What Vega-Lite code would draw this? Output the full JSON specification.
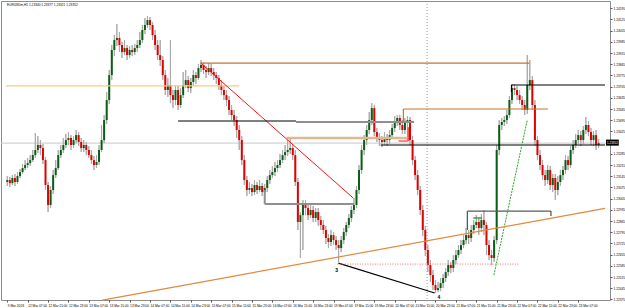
{
"$schema":"https://vega.github.io/schema/vega-lite/v6.json",
"width":609,"height":299,
"autosize":{"type":"none"},
"padding":{"left":1,"top":1,"right":15,"bottom":8},
"background":"white",
"config":{"view":{"stroke":"#8c8c8c","strokeWidth":1},"axis":{"labelFont":"Liberation Sans","labelColor":"#000000","tickColor":"#555555","grid":false,"title":null,"labelOverlap":false,"labelSeparation":0}},
"title":{"text":"EURUSDm,H1  1.23340 1.23377 1.23321 1.23352","anchor":"start","frame":"group","orient":"top","offset":-6,"dx":6,"fontSize":3.2,"fontWeight":"normal","font":"Liberation Sans","color":"#000000"},
"datasets":{
"candles":[
{"i":0,"o":1.23109,"h":1.23146,"l":1.23084,"c":1.23121},
{"i":1,"o":1.23121,"h":1.23140,"l":1.23077,"c":1.23102},
{"i":2,"o":1.23102,"h":1.23152,"l":1.23090,"c":1.23134},
{"i":3,"o":1.23134,"h":1.23159,"l":1.23084,"c":1.23109},
{"i":4,"o":1.23109,"h":1.23171,"l":1.23096,"c":1.23146},
{"i":5,"o":1.23146,"h":1.23190,"l":1.23134,"c":1.23171},
{"i":6,"o":1.23171,"h":1.23221,"l":1.23159,"c":1.23196},
{"i":7,"o":1.23196,"h":1.23246,"l":1.23184,"c":1.23215},
{"i":8,"o":1.23215,"h":1.23259,"l":1.23196,"c":1.23227},
{"i":9,"o":1.23227,"h":1.23277,"l":1.23209,"c":1.23246},
{"i":10,"o":1.23246,"h":1.23309,"l":1.23234,"c":1.23277},
{"i":11,"o":1.23277,"h":1.23415,"l":1.23259,"c":1.23309},
{"i":12,"o":1.23309,"h":1.23396,"l":1.23290,"c":1.23340},
{"i":13,"o":1.23340,"h":1.23371,"l":1.23277,"c":1.23321},
{"i":14,"o":1.23321,"h":1.23346,"l":1.23221,"c":1.23246},
{"i":15,"o":1.23246,"h":1.23265,"l":1.23059,"c":1.23090},
{"i":16,"o":1.23090,"h":1.23109,"l":1.22921,"c":1.22965},
{"i":17,"o":1.22965,"h":1.23084,"l":1.22946,"c":1.23059},
{"i":18,"o":1.23059,"h":1.23184,"l":1.23034,"c":1.23152},
{"i":19,"o":1.23152,"h":1.23246,"l":1.23134,"c":1.23196},
{"i":20,"o":1.23196,"h":1.23309,"l":1.23184,"c":1.23277},
{"i":21,"o":1.23277,"h":1.23340,"l":1.23259,"c":1.23309},
{"i":22,"o":1.23309,"h":1.23384,"l":1.23290,"c":1.23340},
{"i":23,"o":1.23340,"h":1.23409,"l":1.23321,"c":1.23371},
{"i":24,"o":1.23371,"h":1.23421,"l":1.23340,"c":1.23384},
{"i":25,"o":1.23384,"h":1.23402,"l":1.23309,"c":1.23340},
{"i":26,"o":1.23340,"h":1.23396,"l":1.23321,"c":1.23371},
{"i":27,"o":1.23371,"h":1.23434,"l":1.23352,"c":1.23402},
{"i":28,"o":1.23402,"h":1.23421,"l":1.23334,"c":1.23359},
{"i":29,"o":1.23359,"h":1.23384,"l":1.23296,"c":1.23321},
{"i":30,"o":1.23321,"h":1.23371,"l":1.23296,"c":1.23340},
{"i":31,"o":1.23340,"h":1.23359,"l":1.23277,"c":1.23309},
{"i":32,"o":1.23309,"h":1.23334,"l":1.23259,"c":1.23277},
{"i":33,"o":1.23277,"h":1.23309,"l":1.23221,"c":1.23246},
{"i":34,"o":1.23246,"h":1.23271,"l":1.23184,"c":1.23215},
{"i":35,"o":1.23215,"h":1.23277,"l":1.23196,"c":1.23234},
{"i":36,"o":1.23234,"h":1.23340,"l":1.23215,"c":1.23309},
{"i":37,"o":1.23309,"h":1.23465,"l":1.23296,"c":1.23371},
{"i":38,"o":1.23371,"h":1.23527,"l":1.23352,"c":1.23496},
{"i":39,"o":1.23496,"h":1.23671,"l":1.23471,"c":1.23621},
{"i":40,"o":1.23621,"h":1.23809,"l":1.23596,"c":1.23777},
{"i":41,"o":1.23777,"h":1.23965,"l":1.23746,"c":1.23934},
{"i":42,"o":1.23934,"h":1.24027,"l":1.23896,"c":1.23996},
{"i":43,"o":1.23996,"h":1.24096,"l":1.23959,"c":1.24009},
{"i":44,"o":1.24009,"h":1.24046,"l":1.23921,"c":1.23965},
{"i":45,"o":1.23965,"h":1.23984,"l":1.23884,"c":1.23921},
{"i":46,"o":1.23921,"h":1.23996,"l":1.23902,"c":1.23946},
{"i":47,"o":1.23946,"h":1.23965,"l":1.23871,"c":1.23902},
{"i":48,"o":1.23902,"h":1.23959,"l":1.23884,"c":1.23934},
{"i":49,"o":1.23934,"h":1.23965,"l":1.23896,"c":1.23921},
{"i":50,"o":1.23921,"h":1.23971,"l":1.23902,"c":1.23946},
{"i":51,"o":1.23946,"h":1.23996,"l":1.23921,"c":1.23965},
{"i":52,"o":1.23965,"h":1.24046,"l":1.23946,"c":1.23996},
{"i":53,"o":1.23996,"h":1.24090,"l":1.23977,"c":1.24059},
{"i":54,"o":1.24059,"h":1.24134,"l":1.24034,"c":1.24090},
{"i":55,"o":1.24090,"h":1.24146,"l":1.24071,"c":1.24121},
{"i":56,"o":1.24121,"h":1.24140,"l":1.24059,"c":1.24090},
{"i":57,"o":1.24090,"h":1.24109,"l":1.23996,"c":1.24027},
{"i":58,"o":1.24027,"h":1.24059,"l":1.23934,"c":1.23965},
{"i":59,"o":1.23965,"h":1.23996,"l":1.23871,"c":1.23902},
{"i":60,"o":1.23902,"h":1.23996,"l":1.23834,"c":1.23871},
{"i":61,"o":1.23871,"h":1.23896,"l":1.23746,"c":1.23777},
{"i":62,"o":1.23777,"h":1.23809,"l":1.23652,"c":1.23684},
{"i":63,"o":1.23684,"h":1.23759,"l":1.23640,"c":1.23715},
{"i":64,"o":1.23715,"h":1.23996,"l":1.23602,"c":1.23652},
{"i":65,"o":1.23652,"h":1.23684,"l":1.23571,"c":1.23621},
{"i":66,"o":1.23621,"h":1.23715,"l":1.23590,"c":1.23684},
{"i":67,"o":1.23684,"h":1.23709,"l":1.23559,"c":1.23590},
{"i":68,"o":1.23590,"h":1.23696,"l":1.23571,"c":1.23652},
{"i":69,"o":1.23652,"h":1.23796,"l":1.23634,"c":1.23715},
{"i":70,"o":1.23715,"h":1.23809,"l":1.23696,"c":1.23746},
{"i":71,"o":1.23746,"h":1.23771,"l":1.23671,"c":1.23696},
{"i":72,"o":1.23696,"h":1.23759,"l":1.23665,"c":1.23734},
{"i":73,"o":1.23734,"h":1.23809,"l":1.23709,"c":1.23777},
{"i":74,"o":1.23777,"h":1.23796,"l":1.23721,"c":1.23759},
{"i":75,"o":1.23759,"h":1.23846,"l":1.23746,"c":1.23821},
{"i":76,"o":1.23821,"h":1.23871,"l":1.23796,"c":1.23840},
{"i":77,"o":1.23840,"h":1.23859,"l":1.23784,"c":1.23809},
{"i":78,"o":1.23809,"h":1.23834,"l":1.23759,"c":1.23796},
{"i":79,"o":1.23796,"h":1.23852,"l":1.23777,"c":1.23821},
{"i":80,"o":1.23821,"h":1.23846,"l":1.23771,"c":1.23796},
{"i":81,"o":1.23796,"h":1.23821,"l":1.23746,"c":1.23777},
{"i":82,"o":1.23777,"h":1.23796,"l":1.23721,"c":1.23759},
{"i":83,"o":1.23759,"h":1.23777,"l":1.23684,"c":1.23715},
{"i":84,"o":1.23715,"h":1.23746,"l":1.23652,"c":1.23684},
{"i":85,"o":1.23684,"h":1.23709,"l":1.23621,"c":1.23652},
{"i":86,"o":1.23652,"h":1.23684,"l":1.23584,"c":1.23621},
{"i":87,"o":1.23621,"h":1.23646,"l":1.23527,"c":1.23559},
{"i":88,"o":1.23559,"h":1.23590,"l":1.23496,"c":1.23527},
{"i":89,"o":1.23527,"h":1.23559,"l":1.23459,"c":1.23496},
{"i":90,"o":1.23496,"h":1.23521,"l":1.23384,"c":1.23434},
{"i":91,"o":1.23434,"h":1.23465,"l":1.23309,"c":1.23371},
{"i":92,"o":1.23371,"h":1.23396,"l":1.23215,"c":1.23246},
{"i":93,"o":1.23246,"h":1.23277,"l":1.23090,"c":1.23121},
{"i":94,"o":1.23121,"h":1.23146,"l":1.23021,"c":1.23059},
{"i":95,"o":1.23059,"h":1.23109,"l":1.23034,"c":1.23071},
{"i":96,"o":1.23071,"h":1.23096,"l":1.23021,"c":1.23046},
{"i":97,"o":1.23046,"h":1.23121,"l":1.23027,"c":1.23090},
{"i":98,"o":1.23090,"h":1.23109,"l":1.23034,"c":1.23059},
{"i":99,"o":1.23059,"h":1.23121,"l":1.23046,"c":1.23084},
{"i":100,"o":1.23084,"h":1.23102,"l":1.23021,"c":1.23046},
{"i":101,"o":1.23046,"h":1.23096,"l":1.23027,"c":1.23071},
{"i":102,"o":1.23071,"h":1.23146,"l":1.23046,"c":1.23121},
{"i":103,"o":1.23121,"h":1.23184,"l":1.23096,"c":1.23152},
{"i":104,"o":1.23152,"h":1.23209,"l":1.23134,"c":1.23171},
{"i":105,"o":1.23171,"h":1.23234,"l":1.23146,"c":1.23196},
{"i":106,"o":1.23196,"h":1.23246,"l":1.23171,"c":1.23215},
{"i":107,"o":1.23215,"h":1.23284,"l":1.23196,"c":1.23246},
{"i":108,"o":1.23246,"h":1.23309,"l":1.23227,"c":1.23277},
{"i":109,"o":1.23277,"h":1.23340,"l":1.23246,"c":1.23296},
{"i":110,"o":1.23296,"h":1.23371,"l":1.23271,"c":1.23309},
{"i":111,"o":1.23309,"h":1.23384,"l":1.23284,"c":1.23321},
{"i":112,"o":1.23321,"h":1.23346,"l":1.23246,"c":1.23277},
{"i":113,"o":1.23277,"h":1.23309,"l":1.23084,"c":1.23109},
{"i":114,"o":1.23109,"h":1.23134,"l":1.22809,"c":1.22859},
{"i":115,"o":1.22859,"h":1.22921,"l":1.22634,"c":1.22902},
{"i":116,"o":1.22902,"h":1.22996,"l":1.22684,"c":1.22965},
{"i":117,"o":1.22965,"h":1.22996,"l":1.22902,"c":1.22946},
{"i":118,"o":1.22946,"h":1.22971,"l":1.22871,"c":1.22902},
{"i":119,"o":1.22902,"h":1.22965,"l":1.22884,"c":1.22934},
{"i":120,"o":1.22934,"h":1.22959,"l":1.22859,"c":1.22884},
{"i":121,"o":1.22884,"h":1.22946,"l":1.22859,"c":1.22921},
{"i":122,"o":1.22921,"h":1.22946,"l":1.22834,"c":1.22871},
{"i":123,"o":1.22871,"h":1.22896,"l":1.22809,"c":1.22840},
{"i":124,"o":1.22840,"h":1.22871,"l":1.22784,"c":1.22809},
{"i":125,"o":1.22809,"h":1.22834,"l":1.22721,"c":1.22759},
{"i":126,"o":1.22759,"h":1.22784,"l":1.22696,"c":1.22734},
{"i":127,"o":1.22734,"h":1.22809,"l":1.22709,"c":1.22777},
{"i":128,"o":1.22777,"h":1.22796,"l":1.22715,"c":1.22746},
{"i":129,"o":1.22746,"h":1.22771,"l":1.22684,"c":1.22715},
{"i":130,"o":1.22715,"h":1.22746,"l":1.22609,"c":1.22696},
{"i":131,"o":1.22696,"h":1.22771,"l":1.22671,"c":1.22746},
{"i":132,"o":1.22746,"h":1.22821,"l":1.22721,"c":1.22796},
{"i":133,"o":1.22796,"h":1.22859,"l":1.22771,"c":1.22840},
{"i":134,"o":1.22840,"h":1.22909,"l":1.22821,"c":1.22884},
{"i":135,"o":1.22884,"h":1.22959,"l":1.22859,"c":1.22934},
{"i":136,"o":1.22934,"h":1.23009,"l":1.22909,"c":1.22965},
{"i":137,"o":1.22965,"h":1.23084,"l":1.22946,"c":1.23059},
{"i":138,"o":1.23059,"h":1.23215,"l":1.23034,"c":1.23184},
{"i":139,"o":1.23184,"h":1.23340,"l":1.23159,"c":1.23309},
{"i":140,"o":1.23309,"h":1.23402,"l":1.23277,"c":1.23371},
{"i":141,"o":1.23371,"h":1.23465,"l":1.23340,"c":1.23434},
{"i":142,"o":1.23434,"h":1.23546,"l":1.23409,"c":1.23496},
{"i":143,"o":1.23496,"h":1.23602,"l":1.23465,"c":1.23571},
{"i":144,"o":1.23571,"h":1.23590,"l":1.23396,"c":1.23421},
{"i":145,"o":1.23421,"h":1.23446,"l":1.23359,"c":1.23384},
{"i":146,"o":1.23384,"h":1.23415,"l":1.23334,"c":1.23371},
{"i":147,"o":1.23371,"h":1.23396,"l":1.23327,"c":1.23359},
{"i":148,"o":1.23359,"h":1.23421,"l":1.23340,"c":1.23384},
{"i":149,"o":1.23384,"h":1.23409,"l":1.23334,"c":1.23371},
{"i":150,"o":1.23371,"h":1.23434,"l":1.23346,"c":1.23402},
{"i":151,"o":1.23402,"h":1.23471,"l":1.23384,"c":1.23446},
{"i":152,"o":1.23446,"h":1.23521,"l":1.23421,"c":1.23484},
{"i":153,"o":1.23484,"h":1.23527,"l":1.23459,"c":1.23509},
{"i":154,"o":1.23509,"h":1.23527,"l":1.23434,"c":1.23465},
{"i":155,"o":1.23465,"h":1.23496,"l":1.23409,"c":1.23434},
{"i":156,"o":1.23434,"h":1.23509,"l":1.23409,"c":1.23484},
{"i":157,"o":1.23484,"h":1.23521,"l":1.23371,"c":1.23496},
{"i":158,"o":1.23496,"h":1.23515,"l":1.23340,"c":1.23371},
{"i":159,"o":1.23371,"h":1.23396,"l":1.23215,"c":1.23246},
{"i":160,"o":1.23246,"h":1.23271,"l":1.23121,"c":1.23152},
{"i":161,"o":1.23152,"h":1.23184,"l":1.23027,"c":1.23059},
{"i":162,"o":1.23059,"h":1.23084,"l":1.22902,"c":1.22934},
{"i":163,"o":1.22934,"h":1.22965,"l":1.22771,"c":1.22809},
{"i":164,"o":1.22809,"h":1.22834,"l":1.22646,"c":1.22684},
{"i":165,"o":1.22684,"h":1.22715,"l":1.22546,"c":1.22590},
{"i":166,"o":1.22590,"h":1.22621,"l":1.22484,"c":1.22527},
{"i":167,"o":1.22527,"h":1.22559,"l":1.22434,"c":1.22465},
{"i":168,"o":1.22465,"h":1.22496,"l":1.22415,"c":1.22434},
{"i":169,"o":1.22434,"h":1.22484,"l":1.22421,"c":1.22446},
{"i":170,"o":1.22446,"h":1.22509,"l":1.22427,"c":1.22477},
{"i":171,"o":1.22477,"h":1.22534,"l":1.22446,"c":1.22509},
{"i":172,"o":1.22509,"h":1.22571,"l":1.22484,"c":1.22546},
{"i":173,"o":1.22546,"h":1.22621,"l":1.22521,"c":1.22590},
{"i":174,"o":1.22590,"h":1.22609,"l":1.22540,"c":1.22571},
{"i":175,"o":1.22571,"h":1.22652,"l":1.22546,"c":1.22621},
{"i":176,"o":1.22621,"h":1.22684,"l":1.22596,"c":1.22652},
{"i":177,"o":1.22652,"h":1.22715,"l":1.22634,"c":1.22684},
{"i":178,"o":1.22684,"h":1.22746,"l":1.22659,"c":1.22715},
{"i":179,"o":1.22715,"h":1.22777,"l":1.22696,"c":1.22746},
{"i":180,"o":1.22746,"h":1.22821,"l":1.22721,"c":1.22777},
{"i":181,"o":1.22777,"h":1.22809,"l":1.22721,"c":1.22759},
{"i":182,"o":1.22759,"h":1.22840,"l":1.22734,"c":1.22809},
{"i":183,"o":1.22809,"h":1.22871,"l":1.22784,"c":1.22840},
{"i":184,"o":1.22840,"h":1.22902,"l":1.22821,"c":1.22859},
{"i":185,"o":1.22859,"h":1.22884,"l":1.22777,"c":1.22821},
{"i":186,"o":1.22821,"h":1.22909,"l":1.22796,"c":1.22871},
{"i":187,"o":1.22871,"h":1.22934,"l":1.22777,"c":1.22840},
{"i":188,"o":1.22840,"h":1.22859,"l":1.22652,"c":1.22715},
{"i":189,"o":1.22715,"h":1.22746,"l":1.22621,"c":1.22652},
{"i":190,"o":1.22652,"h":1.22684,"l":1.22590,"c":1.22634},
{"i":191,"o":1.22634,"h":1.22771,"l":1.22609,"c":1.22746},
{"i":192,"o":1.22746,"h":1.23340,"l":1.22721,"c":1.23309},
{"i":193,"o":1.23309,"h":1.23496,"l":1.23277,"c":1.23465},
{"i":194,"o":1.23465,"h":1.23509,"l":1.23434,"c":1.23484},
{"i":195,"o":1.23484,"h":1.23521,"l":1.23459,"c":1.23496},
{"i":196,"o":1.23496,"h":1.23559,"l":1.23471,"c":1.23527},
{"i":197,"o":1.23527,"h":1.23646,"l":1.23509,"c":1.23621},
{"i":198,"o":1.23621,"h":1.23721,"l":1.23596,"c":1.23696},
{"i":199,"o":1.23696,"h":1.23721,"l":1.23652,"c":1.23684},
{"i":200,"o":1.23684,"h":1.23709,"l":1.23621,"c":1.23652},
{"i":201,"o":1.23652,"h":1.23684,"l":1.23596,"c":1.23621},
{"i":202,"o":1.23621,"h":1.23646,"l":1.23559,"c":1.23590},
{"i":203,"o":1.23590,"h":1.23621,"l":1.23527,"c":1.23559},
{"i":204,"o":1.23559,"h":1.23902,"l":1.23534,"c":1.23715},
{"i":205,"o":1.23715,"h":1.23871,"l":1.23684,"c":1.23746},
{"i":206,"o":1.23746,"h":1.23771,"l":1.23559,"c":1.23590},
{"i":207,"o":1.23590,"h":1.23621,"l":1.23334,"c":1.23371},
{"i":208,"o":1.23371,"h":1.23396,"l":1.23246,"c":1.23277},
{"i":209,"o":1.23277,"h":1.23309,"l":1.23184,"c":1.23215},
{"i":210,"o":1.23215,"h":1.23246,"l":1.23121,"c":1.23152},
{"i":211,"o":1.23152,"h":1.23184,"l":1.23084,"c":1.23121},
{"i":212,"o":1.23121,"h":1.23215,"l":1.23096,"c":1.23184},
{"i":213,"o":1.23184,"h":1.23209,"l":1.23059,"c":1.23090},
{"i":214,"o":1.23090,"h":1.23159,"l":1.23046,"c":1.23134},
{"i":215,"o":1.23134,"h":1.23159,"l":1.22996,"c":1.23059},
{"i":216,"o":1.23059,"h":1.23146,"l":1.23027,"c":1.23109},
{"i":217,"o":1.23109,"h":1.23184,"l":1.23084,"c":1.23152},
{"i":218,"o":1.23152,"h":1.23209,"l":1.23121,"c":1.23184},
{"i":219,"o":1.23184,"h":1.23277,"l":1.23159,"c":1.23246},
{"i":220,"o":1.23246,"h":1.23271,"l":1.23184,"c":1.23215},
{"i":221,"o":1.23215,"h":1.23334,"l":1.23196,"c":1.23309},
{"i":222,"o":1.23309,"h":1.23371,"l":1.23284,"c":1.23340},
{"i":223,"o":1.23340,"h":1.23409,"l":1.23321,"c":1.23371},
{"i":224,"o":1.23371,"h":1.23434,"l":1.23346,"c":1.23402},
{"i":225,"o":1.23402,"h":1.23427,"l":1.23334,"c":1.23371},
{"i":226,"o":1.23371,"h":1.23459,"l":1.23346,"c":1.23434},
{"i":227,"o":1.23434,"h":1.23515,"l":1.23409,"c":1.23465},
{"i":228,"o":1.23465,"h":1.23490,"l":1.23396,"c":1.23421},
{"i":229,"o":1.23421,"h":1.23446,"l":1.23340,"c":1.23371},
{"i":230,"o":1.23371,"h":1.23427,"l":1.23334,"c":1.23402},
{"i":231,"o":1.23402,"h":1.23434,"l":1.23309,"c":1.23340},
{"i":232,"o":1.23340,"h":1.23377,"l":1.23321,"c":1.23352}
],
"segs":[
{"k":"wheat","x":-0.5,"x2":91,"y":1.23709,"y2":1.23709},
{"k":"peru","x":75.9,"x2":204.8,"y":1.23852,"y2":1.23852},
{"k":"peru","x":155.4,"x2":155.4,"y":1.23484,"y2":1.23565},
{"k":"peru","x":155.4,"x2":212.1,"y":1.23565,"y2":1.23565},
{"k":"red","x":75.9,"x2":135.7,"y":1.23852,"y2":1.23009},
{"k":"red","x":153.5,"x2":157.3,"y":1.23365,"y2":1.23365},
{"k":"red","x":157.3,"x2":157.3,"y":1.23452,"y2":1.23365},
{"k":"black","x":67.0,"x2":113.3,"y":1.2349,"y2":1.2349},
{"k":"black","x":146.5,"x2":234.5,"y":1.2334,"y2":1.2334},
{"k":"black","x":197.8,"x2":197.8,"y":1.23671,"y2":1.23715},
{"k":"black","x":197.8,"x2":234.5,"y":1.23715,"y2":1.23715},
{"k":"black","x":129.9,"x2":167.7,"y":1.22602,"y2":1.22415},
{"k":"gray2","x":113.3,"x2":159.6,"y":1.23484,"y2":1.23484},
{"k":"gray2","x":101.0,"x2":101.0,"y":1.23059,"y2":1.22971},
{"k":"gray2","x":101.0,"x2":136.1,"y":1.22971,"y2":1.22971},
{"k":"dkgray","x":180.5,"x2":180.5,"y":1.22809,"y2":1.22927},
{"k":"dkgray","x":180.5,"x2":213.3,"y":1.22927,"y2":1.22927},
{"k":"dkgray","x":213.3,"x2":213.3,"y":1.22927,"y2":1.22896},
{"k":"tan","x":109.5,"x2":157.3,"y":1.23384,"y2":1.23384},
{"k":"reddot","x":129.5,"x2":200.9,"y":1.22596,"y2":1.22596},
{"k":"green","x":182.8,"x2":186.3,"y":1.22884,"y2":1.22884},
{"k":"greendash","x":190.9,"x2":204.0,"y":1.22527,"y2":1.23496},
{"k":"orange","x":37.3,"x2":234.5,"y":1.22371,"y2":1.22944}
]
},
"layer":[
{"data":{"name":"candles"},"mark":{"type":"rule","color":"#aaaaaa","strokeWidth":1},
 "encoding":{
  "x":{"field":"i","type":"quantitative","scale":{"domain":[-0.5,234.5],"nice":false,"zero":false},
   "axis":{"orient":"bottom","title":null,"tickCount":100,"values":[0,8,16,24,32,40,48,56,64,72,80,88,96,104,112,120,128,136,144,152,160,168,176,184,192,200,208,216,224],
    "labelExpr":"datum.value == 0 ? '9 Mar 2018' : (datum.value <= 120 ? (12 + floor((datum.value - 1) / 24)) + ' Mar ' + (((datum.value - 1) % 24) < 10 ? '0' : '') + ((datum.value - 1) % 24) + ':00' : (19 + floor((datum.value - 121) / 24)) + ' Mar ' + (((datum.value - 121) % 24) < 10 ? '0' : '') + ((datum.value - 121) % 24) + ':00')",
    "labelAlign":"left","labelFontSize":3.2,"tickSize":2,"labelPadding":1,"labelOverlap":false,"labelSeparation":0,"labelFlush":false,"labelBound":false,"domain":false,"grid":false}},
  "y":{"field":"l","type":"quantitative","scale":{"domain":[1.223715,1.2424],"nice":false,"zero":false},
   "axis":{"orient":"right","title":null,"tickCount":100,"values":[1.24195,1.24125,1.24055,1.23985,1.23915,1.23845,1.23775,1.23705,1.23635,1.23565,1.23495,1.23425,1.23285,1.23215,1.23145,1.23075,1.23005,1.22935,1.22865,1.22795,1.22725,1.22655,1.22585,1.22515,1.22445,1.22375],
    "format":".5f","labelFontSize":3.2,"tickSize":2,"labelPadding":1,"labelOverlap":false,"labelSeparation":0,"labelFlush":false,"labelBound":false,"domain":false,"grid":false}},
  "y2":{"field":"h"}}},
{"data":{"values":[{"p":1.23352}]},"mark":{"type":"rule","color":"#c8c8c8","strokeWidth":1},
 "encoding":{"y":{"field":"p","type":"quantitative","scale":{"domain":[1.223715,1.2424],"nice":false,"zero":false}}}},
{"data":{"values":[{"i":164.7}]},"mark":{"type":"rule","color":"#9a9a9a","strokeWidth":1,"strokeDash":[1,2]},
 "encoding":{"x":{"field":"i","type":"quantitative","scale":{"domain":[-0.5,234.5],"nice":false,"zero":false}}}},
{"data":{"name":"candles"},"mark":{"type":"rule","color":"#aaaaaa","strokeWidth":1},
 "encoding":{
  "x":{"field":"i","type":"quantitative","scale":{"domain":[-0.5,234.5],"nice":false,"zero":false}},
  "y":{"field":"l","type":"quantitative","scale":{"domain":[1.223715,1.2424],"nice":false,"zero":false}},
  "y2":{"field":"h"}}},
{"data":{"name":"candles"},"mark":{"type":"bar","size":2},
 "encoding":{
  "x":{"field":"i","type":"quantitative","scale":{"domain":[-0.5,234.5],"nice":false,"zero":false}},
  "y":{"field":"o","type":"quantitative","scale":{"domain":[1.223715,1.2424],"nice":false,"zero":false}},
  "y2":{"field":"c"},
  "color":{"condition":{"test":"datum.c >= datum.o","value":"#0b5d16"},"value":"#e00000"}}},
{"data":{"name":"segs"},"transform":[{"filter":"datum.k == 'wheat'"}],"mark":{"type":"rule","color":"#f3cc86","strokeWidth":1.2},
 "encoding":{"x":{"field":"x","type":"quantitative","scale":{"domain":[-0.5,234.5],"nice":false,"zero":false}},"x2":{"field":"x2"},"y":{"field":"y","type":"quantitative","scale":{"domain":[1.223715,1.2424],"nice":false,"zero":false}},"y2":{"field":"y2"}}},
{"data":{"name":"segs"},"transform":[{"filter":"datum.k == 'tan'"}],"mark":{"type":"rule","color":"#e2b68e","strokeWidth":2.5},
 "encoding":{"x":{"field":"x","type":"quantitative","scale":{"domain":[-0.5,234.5],"nice":false,"zero":false}},"x2":{"field":"x2"},"y":{"field":"y","type":"quantitative","scale":{"domain":[1.223715,1.2424],"nice":false,"zero":false}},"y2":{"field":"y2"}}},
{"data":{"name":"segs"},"transform":[{"filter":"datum.k == 'gray2'"}],"mark":{"type":"rule","color":"#8f8f8f","strokeWidth":2},
 "encoding":{"x":{"field":"x","type":"quantitative","scale":{"domain":[-0.5,234.5],"nice":false,"zero":false}},"x2":{"field":"x2"},"y":{"field":"y","type":"quantitative","scale":{"domain":[1.223715,1.2424],"nice":false,"zero":false}},"y2":{"field":"y2"}}},
{"data":{"name":"segs"},"transform":[{"filter":"datum.k == 'dkgray'"}],"mark":{"type":"rule","color":"#5a5a5a","strokeWidth":1.3},
 "encoding":{"x":{"field":"x","type":"quantitative","scale":{"domain":[-0.5,234.5],"nice":false,"zero":false}},"x2":{"field":"x2"},"y":{"field":"y","type":"quantitative","scale":{"domain":[1.223715,1.2424],"nice":false,"zero":false}},"y2":{"field":"y2"}}},
{"data":{"name":"segs"},"transform":[{"filter":"datum.k == 'peru'"}],"mark":{"type":"rule","color":"#c4742f","strokeWidth":1.2},
 "encoding":{"x":{"field":"x","type":"quantitative","scale":{"domain":[-0.5,234.5],"nice":false,"zero":false}},"x2":{"field":"x2"},"y":{"field":"y","type":"quantitative","scale":{"domain":[1.223715,1.2424],"nice":false,"zero":false}},"y2":{"field":"y2"}}},
{"data":{"name":"segs"},"transform":[{"filter":"datum.k == 'red'"}],"mark":{"type":"rule","color":"#ff1010","strokeWidth":1},
 "encoding":{"x":{"field":"x","type":"quantitative","scale":{"domain":[-0.5,234.5],"nice":false,"zero":false}},"x2":{"field":"x2"},"y":{"field":"y","type":"quantitative","scale":{"domain":[1.223715,1.2424],"nice":false,"zero":false}},"y2":{"field":"y2"}}},
{"data":{"name":"segs"},"transform":[{"filter":"datum.k == 'black'"}],"mark":{"type":"rule","color":"#000000","strokeWidth":1.1},
 "encoding":{"x":{"field":"x","type":"quantitative","scale":{"domain":[-0.5,234.5],"nice":false,"zero":false}},"x2":{"field":"x2"},"y":{"field":"y","type":"quantitative","scale":{"domain":[1.223715,1.2424],"nice":false,"zero":false}},"y2":{"field":"y2"}}},
{"data":{"name":"segs"},"transform":[{"filter":"datum.k == 'reddot'"}],"mark":{"type":"rule","color":"#ff6a6a","strokeWidth":1,"strokeDash":[1,1.5]},
 "encoding":{"x":{"field":"x","type":"quantitative","scale":{"domain":[-0.5,234.5],"nice":false,"zero":false}},"x2":{"field":"x2"},"y":{"field":"y","type":"quantitative","scale":{"domain":[1.223715,1.2424],"nice":false,"zero":false}},"y2":{"field":"y2"}}},
{"data":{"name":"segs"},"transform":[{"filter":"datum.k == 'green'"}],"mark":{"type":"rule","color":"#2e8b2e","strokeWidth":1.3},
 "encoding":{"x":{"field":"x","type":"quantitative","scale":{"domain":[-0.5,234.5],"nice":false,"zero":false}},"x2":{"field":"x2"},"y":{"field":"y","type":"quantitative","scale":{"domain":[1.223715,1.2424],"nice":false,"zero":false}},"y2":{"field":"y2"}}},
{"data":{"name":"segs"},"transform":[{"filter":"datum.k == 'greendash'"}],"mark":{"type":"rule","color":"#2aa52a","strokeWidth":1,"strokeDash":[2,1]},
 "encoding":{"x":{"field":"x","type":"quantitative","scale":{"domain":[-0.5,234.5],"nice":false,"zero":false}},"x2":{"field":"x2"},"y":{"field":"y","type":"quantitative","scale":{"domain":[1.223715,1.2424],"nice":false,"zero":false}},"y2":{"field":"y2"}}},
{"data":{"name":"segs"},"transform":[{"filter":"datum.k == 'orange'"}],"mark":{"type":"rule","color":"#e3893c","strokeWidth":1.2},
 "encoding":{"x":{"field":"x","type":"quantitative","scale":{"domain":[-0.5,234.5],"nice":false,"zero":false}},"x2":{"field":"x2"},"y":{"field":"y","type":"quantitative","scale":{"domain":[1.223715,1.2424],"nice":false,"zero":false}},"y2":{"field":"y2"}}},
{"data":{"values":[{"i":129.2,"p":1.22559,"t":"3"},{"i":169.3,"p":1.2239,"t":"4"}]},
 "mark":{"type":"text","fontSize":5,"fontWeight":"bold","font":"Liberation Sans","color":"#000000","baseline":"middle","align":"center"},
 "encoding":{"x":{"field":"i","type":"quantitative","scale":{"domain":[-0.5,234.5],"nice":false,"zero":false}},"y":{"field":"p","type":"quantitative","scale":{"domain":[1.223715,1.2424],"nice":false,"zero":false}},"text":{"field":"t"}}},
{"data":{"values":[{"a":234.9,"b":239.9,"p1":1.23336,"p2":1.23374}]},"mark":{"type":"rect","color":"#000000"},
 "encoding":{"x":{"field":"a","type":"quantitative","scale":{"domain":[-0.5,234.5],"nice":false,"zero":false}},"x2":{"field":"b"},"y":{"field":"p1","type":"quantitative","scale":{"domain":[1.223715,1.2424],"nice":false,"zero":false}},"y2":{"field":"p2"}}},
{"data":{"values":[{"i":237.4,"p":1.23355,"t":"1.23352"}]},"mark":{"type":"text","fontSize":3,"font":"Liberation Sans","color":"#ffffff","baseline":"middle","align":"center"},
 "encoding":{"x":{"field":"i","type":"quantitative","scale":{"domain":[-0.5,234.5],"nice":false,"zero":false}},"y":{"field":"p","type":"quantitative","scale":{"domain":[1.223715,1.2424],"nice":false,"zero":false}},"text":{"field":"t"}}}
]
}
